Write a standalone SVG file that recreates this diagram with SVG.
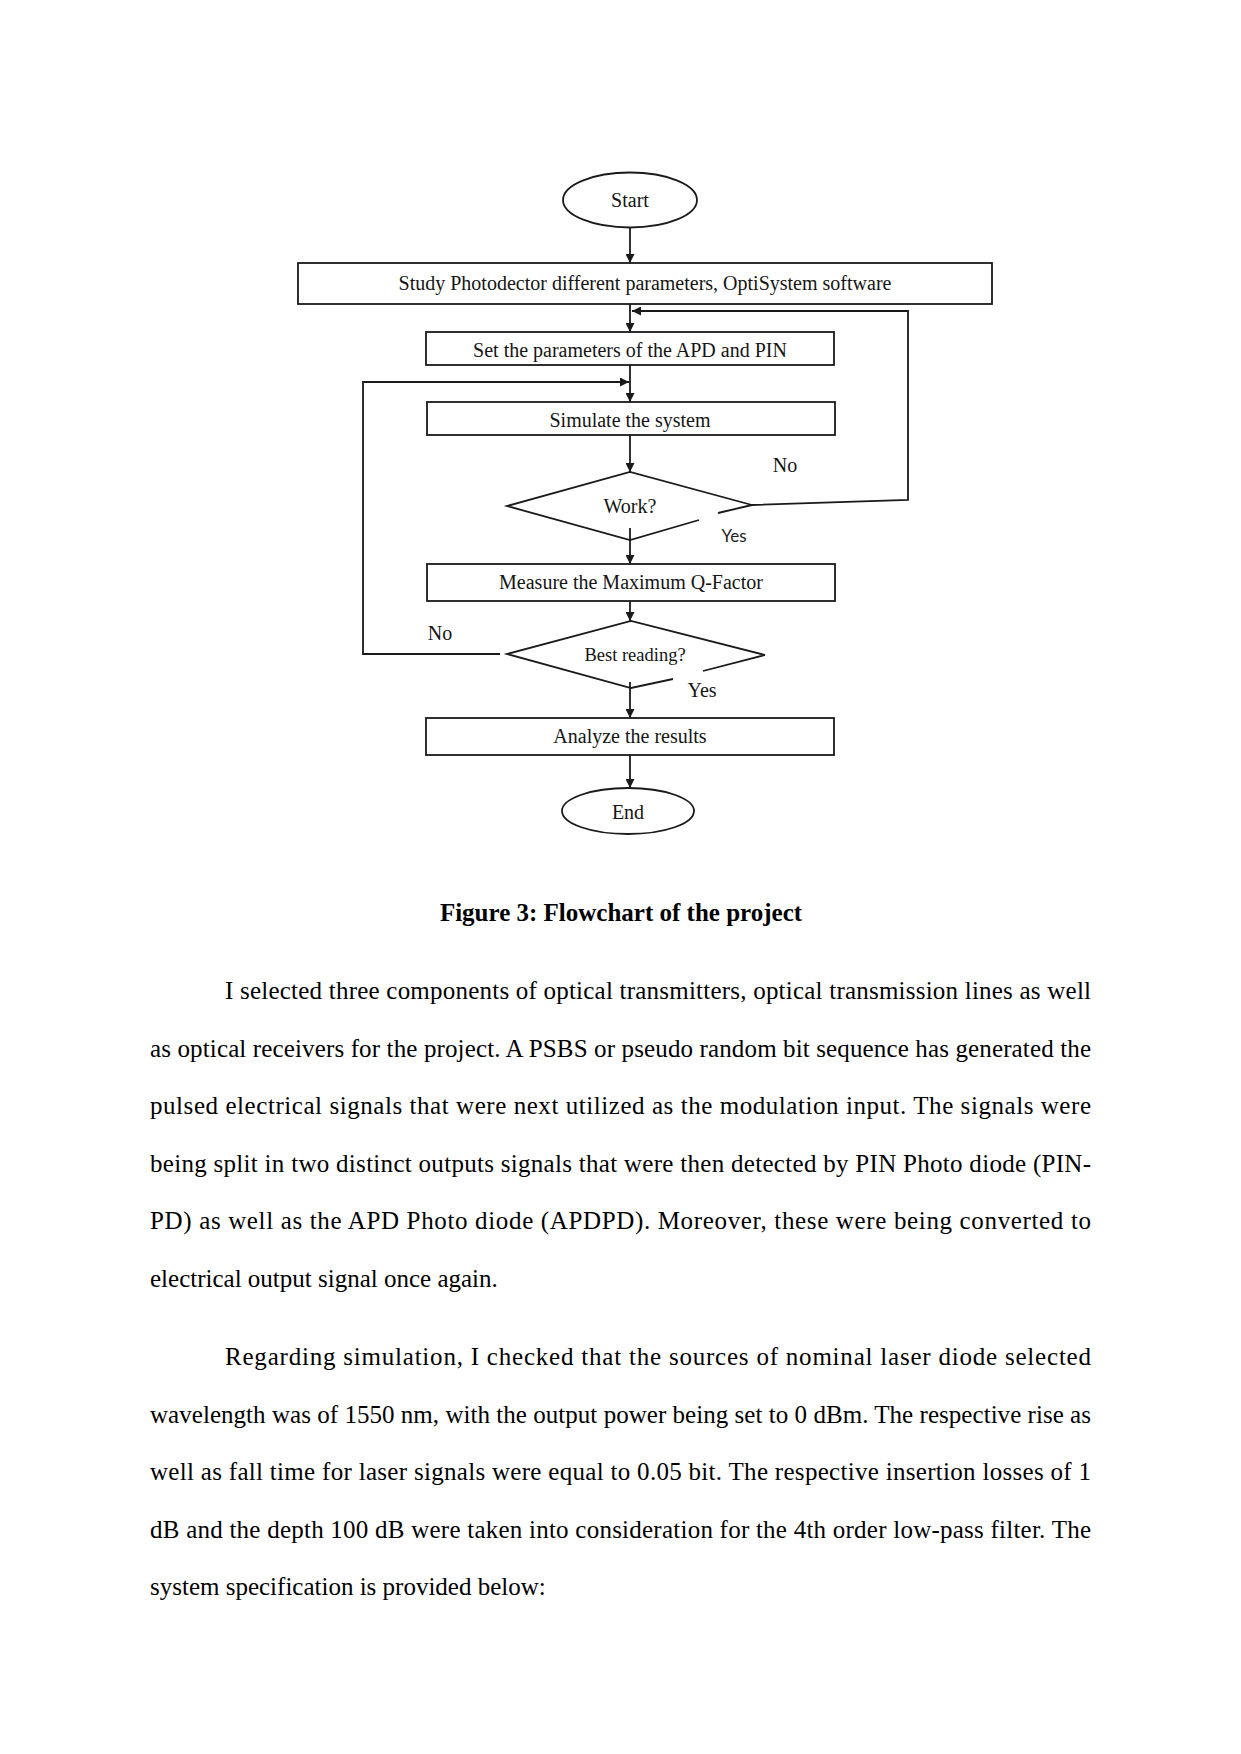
<svg xmlns="http://www.w3.org/2000/svg" width="1241" height="1754" viewBox="0 0 1241 1754">
<style>
.bg{fill:#fff}
.shape{fill:#fff;stroke:#1a1a1a;stroke-width:1.8}
.edge{fill:none;stroke:#1a1a1a;stroke-width:1.8}
.lbl{font-family:"Liberation Serif","Times New Roman",serif;font-size:20px;fill:#151515;text-anchor:middle}
.lbls{font-family:Lato,"Open Sans","Liberation Sans",sans-serif;font-size:17px;fill:#222;text-anchor:middle}
.cap{font-family:"Liberation Serif","Times New Roman",serif;font-size:25px;font-weight:bold;fill:#000;text-anchor:middle}
.body{font-family:"Liberation Serif","Times New Roman",serif;font-size:25px;fill:#000}
</style>
<defs>
<marker id="arr" viewBox="0 0 10 10" refX="10" refY="5" markerWidth="10" markerHeight="9" markerUnits="userSpaceOnUse" orient="auto">
<path d="M0,0 L10,5 L0,10 Z" fill="#1a1a1a"/>
</marker>
</defs>
<rect class="bg" x="0" y="0" width="1241" height="1754"/>

<g id="connectors">
<line class="edge" x1="630" y1="228" x2="630" y2="263" marker-end="url(#arr)"/>
<line class="edge" x1="630" y1="296" x2="630" y2="332" marker-end="url(#arr)"/>
<line class="edge" x1="630" y1="365" x2="630" y2="402" marker-end="url(#arr)"/>
<line class="edge" x1="630" y1="435" x2="630" y2="472" marker-end="url(#arr)"/>
<polyline class="edge" points="752,505 908,500 908,311 632,311" marker-end="url(#arr)"/>
<line class="edge" x1="630" y1="528" x2="630" y2="564" marker-end="url(#arr)"/>
<line class="edge" x1="630" y1="592" x2="630" y2="621" marker-end="url(#arr)"/>
<polyline class="edge" points="500,654 363,654 363,382 629,382" marker-end="url(#arr)"/>
<line class="edge" x1="630" y1="682" x2="630" y2="718" marker-end="url(#arr)"/>
<line class="edge" x1="630" y1="750" x2="630" y2="788" marker-end="url(#arr)"/>
</g>

<g id="start">
<ellipse class="shape" cx="630" cy="200" rx="67" ry="27.5"/>
<text class="lbl" x="630" y="207">Start</text>
</g>

<g id="study">
<rect class="shape" x="298" y="263" width="694" height="41"/>
<text class="lbl" x="645" y="290">Study Photodector different parameters, OptiSystem software</text>
</g>

<g id="set-params">
<rect class="shape" x="426" y="332" width="408" height="33"/>
<text class="lbl" x="630" y="357">Set the parameters of the APD and PIN</text>
</g>

<g id="simulate">
<rect class="shape" x="427" y="402" width="408" height="33"/>
<text class="lbl" x="630" y="427">Simulate the system</text>
</g>

<g id="work">
<path class="edge" d="M699,520 L630,540 L507,506 L630,472 L752,505 L718,513"/>
<text class="lbl" x="630" y="513">Work?</text>
<text class="lbl" x="785" y="472">No</text>
<text class="lbls" x="734" y="542">Yes</text>
</g>

<g id="measure">
<rect class="shape" x="427" y="564" width="408" height="37"/>
<text class="lbl" x="631" y="589">Measure the Maximum Q-Factor</text>
</g>

<g id="best">
<path class="edge" d="M673,679 L631,688 L507,654 L631,621 L765,655 L703,671"/>
<text class="lbl" x="635" y="661" style="font-size:18.5px">Best reading?</text>
<text class="lbl" x="440" y="640">No</text>
<text class="lbl" x="702" y="697">Yes</text>
</g>

<g id="analyze">
<rect class="shape" x="426" y="718" width="408" height="37"/>
<text class="lbl" x="630" y="743">Analyze the results</text>
</g>

<g id="end">
<ellipse class="shape" cx="628" cy="811" rx="66" ry="23"/>
<text class="lbl" x="628" y="819">End</text>
</g>

<text class="cap" x="621" y="921">Figure 3: Flowchart of the project</text>

<g id="paragraph-1">
<text class="body" x="225" y="999" textLength="866" lengthAdjust="spacing">I selected three components of optical transmitters, optical transmission lines as well</text>
<text class="body" x="150" y="1056.5" textLength="941" lengthAdjust="spacing">as optical receivers for the project. A PSBS or pseudo random bit sequence has generated the</text>
<text class="body" x="150" y="1114" textLength="941" lengthAdjust="spacing">pulsed electrical signals that were next utilized as the modulation input. The signals were</text>
<text class="body" x="150" y="1171.5" textLength="941" lengthAdjust="spacing">being split in two distinct outputs signals that were then detected by PIN Photo diode (PIN-</text>
<text class="body" x="150" y="1229" textLength="941" lengthAdjust="spacing">PD) as well as the APD Photo diode (APDPD). Moreover, these were being converted to</text>
<text class="body" x="150" y="1286.5">electrical output signal once again.</text>
</g>

<g id="paragraph-2">
<text class="body" x="225" y="1365" textLength="866" lengthAdjust="spacing">Regarding simulation, I checked that the sources of nominal laser diode selected</text>
<text class="body" x="150" y="1422.5" textLength="941" lengthAdjust="spacing">wavelength was of 1550 nm, with the output power being set to 0 dBm. The respective rise as</text>
<text class="body" x="150" y="1480" textLength="941" lengthAdjust="spacing">well as fall time for laser signals were equal to 0.05 bit. The respective insertion losses of 1</text>
<text class="body" x="150" y="1537.5" textLength="941" lengthAdjust="spacing">dB and the depth 100 dB were taken into consideration for the 4th order low-pass filter. The</text>
<text class="body" x="150" y="1595">system specification is provided below:</text>
</g>
</svg>
